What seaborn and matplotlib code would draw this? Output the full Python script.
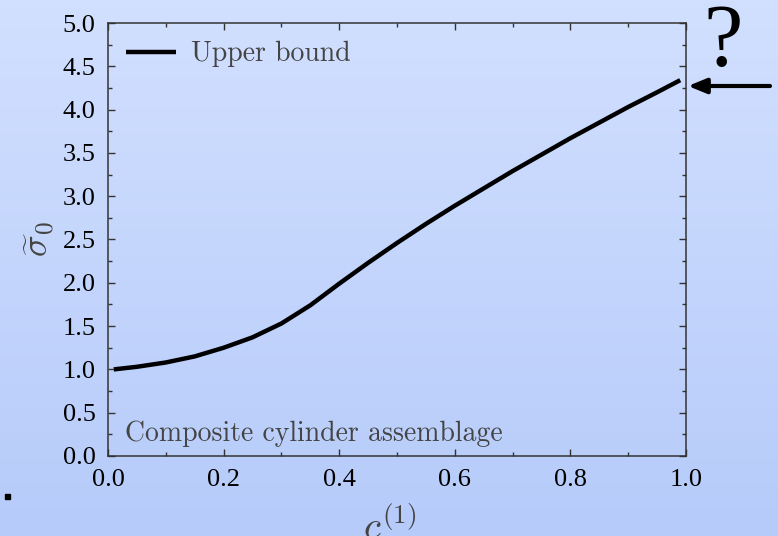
import numpy as np
import pandas as pd
import matplotlib
matplotlib.use("Agg")
import matplotlib.pyplot as plt
import seaborn as sns
from matplotlib.ticker import MultipleLocator

# datos
c1 = [0.01, 0.05, 0.10, 0.15, 0.20, 0.25, 0.30, 0.35, 0.40, 0.45, 0.50,
      0.55, 0.60, 0.65, 0.70, 0.75, 0.80, 0.85, 0.90, 0.95, 0.99]
sigma0 = [1.00, 1.03, 1.08, 1.15, 1.25, 1.37, 1.53, 1.74, 1.99, 2.23, 2.46,
          2.68, 2.89, 3.09, 3.29, 3.48, 3.67, 3.85, 4.03, 4.20, 4.34]
xticks = [0.0, 0.2, 0.4, 0.6, 0.8, 1.0]
yticks = [0.0, 0.5, 1.0, 1.5, 2.0, 2.5, 3.0, 3.5, 4.0, 4.5, 5.0]

df = pd.DataFrame({"c": c1, "sigma": sigma0})

sns.set_style("ticks")
plt.rcParams["font.family"] = ["Liberation Serif", "DejaVu Serif"]
plt.rcParams["mathtext.fontset"] = "cm"

fig = plt.figure(figsize=(7.78, 5.36), dpi=100)

# fondo degradado
bg = fig.add_axes([0, 0, 1, 1], zorder=-10)
top = np.array([210, 224, 255]) / 255
bot = np.array([182, 203, 250]) / 255
t = np.linspace(0, 1, 256)[:, None]
grad = (top * (1 - t) + bot * t)[:, None, :]
bg.imshow(grad, aspect="auto", extent=[0, 1, 0, 1])
bg.axis("off")

ax = fig.add_axes([108 / 778, 80 / 536, 578 / 778, 433 / 536])
ax.set_facecolor("none")

sns.lineplot(data=df, x="c", y="sigma", ax=ax, color="black", lw=3.2,
             label="Upper bound", solid_joinstyle="round", solid_capstyle="butt")

ax.set_xlim(0, 1)
ax.set_ylim(0, 5)
ax.set_xticks(xticks)
ax.set_yticks(yticks)
ax.set_xticklabels([f"{v:.1f}" for v in xticks])
ax.set_yticklabels([f"{v:.1f}" for v in yticks])
ax.xaxis.set_minor_locator(MultipleLocator(0.1))
ax.yaxis.set_minor_locator(MultipleLocator(0.25))
ax.tick_params(which="both", direction="in", top=True, right=True,
               color="#333333", labelsize=19, labelcolor="black")
ax.tick_params(which="major", length=5, width=1)
ax.tick_params(which="minor", length=3, width=1)
ax.tick_params(axis="x", pad=9)
ax.tick_params(axis="y", pad=9)
for s in ax.spines.values():
    s.set_visible(True)
    s.set_color("#333333")
    s.set_linewidth(1.1)

ax.set_xlabel("")
ax.set_ylabel(r"$\widetilde{\sigma}_0$", fontsize=26, color="#444444", labelpad=4)

leg = ax.legend(loc="upper left", frameon=False, handlelength=1.8,
                prop={"family": "cmr10", "size": 20}, borderaxespad=0.25,
                handletextpad=0.55)
for txt in leg.get_texts():
    txt.set_color("#444444")

ax.text(0.029, 0.035, "Composite cylinder assemblage", transform=ax.transAxes,
        family="cmr10", fontsize=20, color="#444444", va="baseline")

fig.text(390 / 778, -3 / 536, r"$c^{(1)}$", fontsize=28, color="#444444",
         ha="center", va="baseline")

fig.text(723 / 778, 471 / 536, "?", fontsize=64, color="black",
         ha="center", va="baseline")

ax.annotate("", xy=(688, 450), xycoords="figure pixels",
            xytext=(770, 450), textcoords="figure pixels",
            arrowprops=dict(arrowstyle="-|>,head_length=1.1,head_width=0.45",
                            lw=3, color="black", shrinkA=0, shrinkB=0))

fig.patches.append(plt.Rectangle((5 / 778, 37 / 536), 5 / 778, 5 / 536,
                                 transform=fig.transFigure, color="black"))

fig.savefig("out.png", dpi=100)
